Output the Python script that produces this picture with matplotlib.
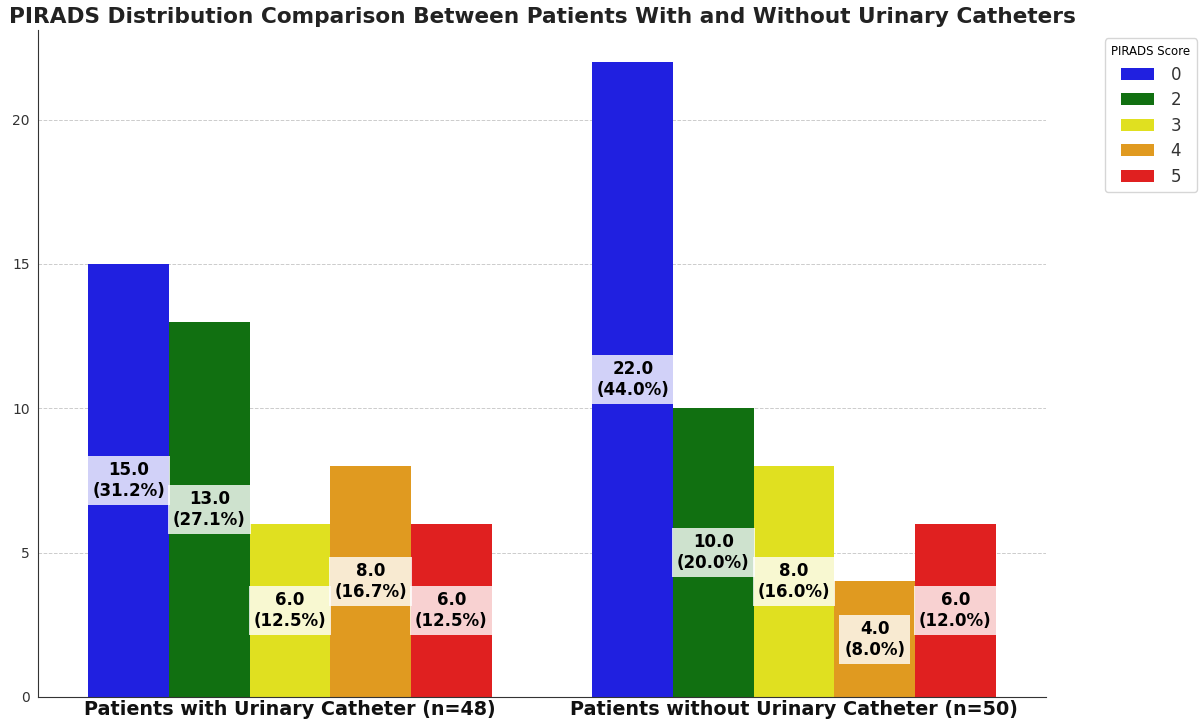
import numpy as np
import matplotlib
matplotlib.use("Agg")
import matplotlib.pyplot as plt

# data
groups = ["Patients with Urinary Catheter (n=48)", "Patients without Urinary Catheter (n=50)"]
group_totals = [48, 50]
scores = ["0", "2", "3", "4", "5"]
with_catheter = [15, 13, 6, 8, 6]
without_catheter = [22, 10, 8, 4, 6]
colors = ["#2020e0", "#117011", "#e0e020", "#e09a20", "#e02020"]

counts = np.array([with_catheter, without_catheter], dtype=float)  # rows = groups

fig = plt.figure(figsize=(11.99, 7.23), dpi=100)
ax = fig.add_axes([0.0317, 0.036, 0.8407, 0.9225])

x = np.arange(len(groups))
width = 0.16
for i, score in enumerate(scores):
    pos = x + (i - 2) * width
    vals = counts[:, i]
    ax.bar(pos, vals, width, color=colors[i], label=score, zorder=2)
    for p, v, tot in zip(pos, vals, group_totals):
        ax.text(p, v / 2, f"{v:.1f}\n({v / tot * 100:.1f}%)", ha="center", va="center",
                fontsize=12, fontweight="bold", color="black", zorder=3,
                bbox=dict(facecolor="white", alpha=0.8, edgecolor="none", boxstyle="square,pad=0.3"))

ax.set_xlim(-0.5, 1.5)
ax.set_ylim(0, 23.1)
ax.set_xticks(x)
ax.set_xticklabels(groups, fontsize=13.8, fontweight="bold", color="#111111")
ax.set_yticks([0, 5, 10, 15, 20])
ax.tick_params(axis="y", labelsize=10, length=0, colors="#333333", pad=6)
ax.tick_params(axis="x", direction="in", length=4, pad=2)
ax.grid(axis="y", linestyle="--", color="#cccccc", linewidth=0.7, zorder=0)
ax.spines["top"].set_visible(False)
ax.spines["right"].set_visible(False)
ax.spines["left"].set_color("#333333")
ax.spines["bottom"].set_color("#333333")
ax.set_title("PIRADS Distribution Comparison Between Patients With and Without Urinary Catheters",
             fontsize=15.6, fontweight="bold", color="#222222", pad=5)

leg = ax.legend(title="PIRADS Score", loc="upper left", bbox_to_anchor=(1.05, 1.0),
                fontsize=12, title_fontsize=8.5, handlelength=2.0, labelspacing=0.45,
                handletextpad=1.0, frameon=True)
leg.get_frame().set_edgecolor("#cccccc")
for t in leg.get_texts():
    t.set_color("#333333")

fig.savefig("out.png", dpi=100)
